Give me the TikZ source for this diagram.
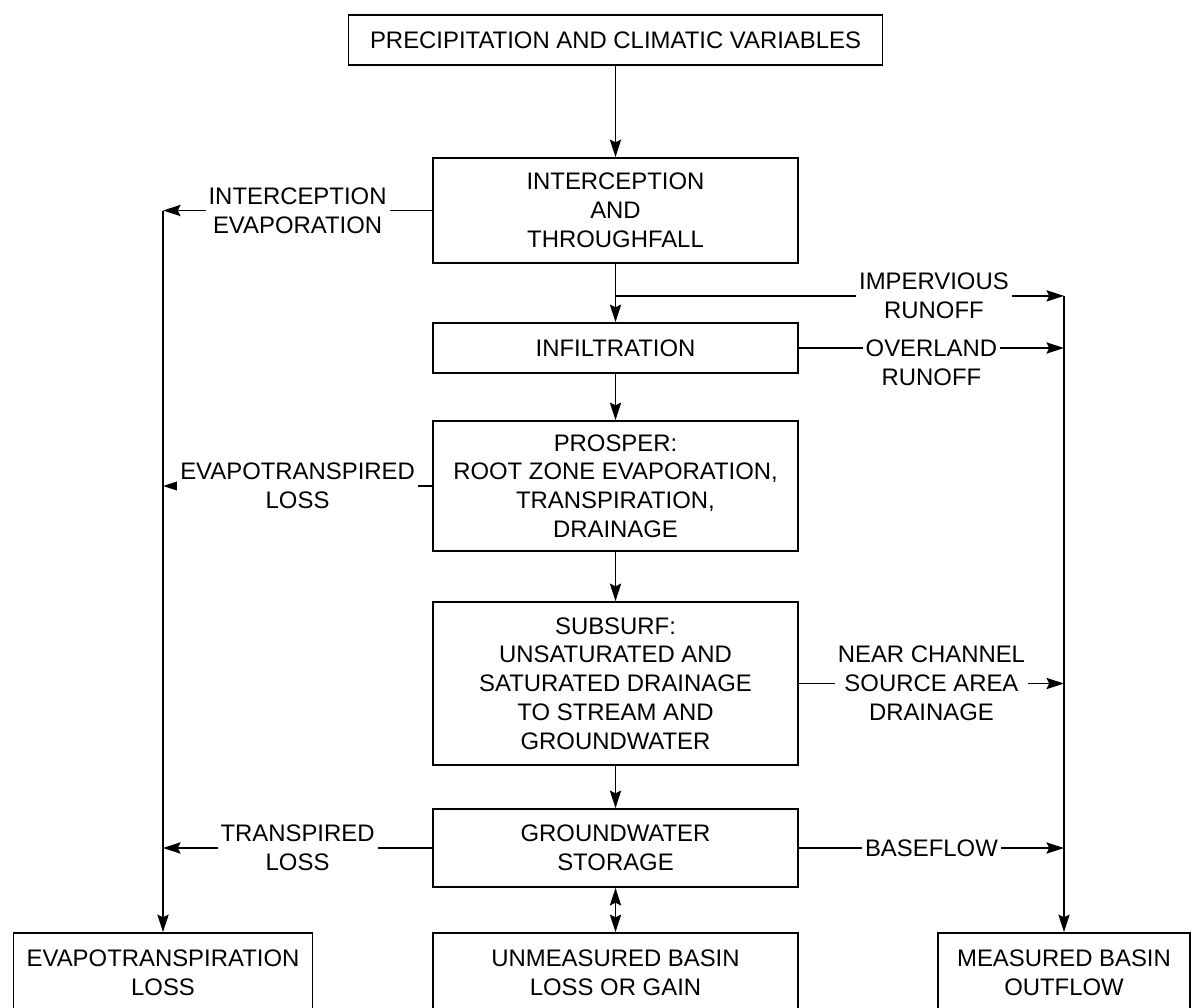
\documentclass[tikz,border=0pt]{standalone}
\usepackage{fontspec}
\setmainfont{Liberation Sans}
\usetikzlibrary{arrows.meta}

\tikzset{
  box/.style={draw, line width=0.5pt, minimum width=3.65cm, inner sep=0pt, align=center, font=\fontsize{6.8pt}{8.2pt}\selectfont},
  lbl/.style={fill=white, inner xsep=0.03cm, inner ysep=0.02cm, align=center, font=\fontsize{6.8pt}{8.2pt}\selectfont},
  flow/.style={line width=0.5pt, -{Stealth[length=5pt,width=3.2pt,inset=0.8pt]}},
  dflow/.style={line width=0.5pt, {Stealth[length=5pt,width=3.2pt,inset=0.8pt]}-{Stealth[length=5pt,width=3.2pt,inset=0.8pt]}},
}

\begin{document}
\begin{tikzpicture}

    % Frame
    \def\xm{6.155}   % main column
    \def\xl{1.63}    % left collector
    \def\xr{10.64}   % right collector
    \useasboundingbox (0,0) rectangle (11.98,-10.07);
    \clip (0,0) rectangle (11.98,-10.07);

    % Boxes, main column
    \node[box, minimum width=5.34cm, minimum height=0.50cm] (precip) at (\xm,-0.40) {PRECIPITATION AND CLIMATIC VARIABLES};
    \node[box, minimum height=1.05cm] (intercept) at (\xm,-2.105) {INTERCEPTION\\AND\\THROUGHFALL};
    \node[box, minimum height=0.50cm] (infil) at (\xm,-3.48) {INFILTRATION};
    \node[box, minimum height=1.30cm] (prosper) at (\xm,-4.86) {PROSPER:\\ROOT ZONE EVAPORATION,\\TRANSPIRATION,\\DRAINAGE};
    \node[box, minimum height=1.63cm] (subsurf) at (\xm,-6.835) {SUBSURF:\\UNSATURATED AND\\SATURATED DRAINAGE\\TO STREAM AND\\GROUNDWATER};
    \node[box, minimum height=0.78cm] (gw) at (\xm,-8.48) {GROUNDWATER\\STORAGE};

    % Boxes, bottom row
    \node[box, minimum width=2.99cm, minimum height=0.80cm] (etloss) at (\xl,-9.73) {EVAPOTRANSPIRATION\\LOSS};
    \node[box, minimum height=0.80cm] (unmeas) at (\xm,-9.73) {UNMEASURED BASIN\\LOSS OR GAIN};
    \node[box, minimum width=2.52cm, minimum height=0.80cm] (meas) at (\xr,-9.73) {MEASURED BASIN\\OUTFLOW};

    % Collector points
    \path (intercept.south) ++(0,-0.32) coordinate (J);
    \coordinate (L0) at (etloss.north |- intercept.west);
    \coordinate (L1) at (etloss.north |- prosper.west);
    \coordinate (L2) at (etloss.north |- gw.west);
    \coordinate (R0) at (meas.north |- J);
    \coordinate (R1) at (meas.north |- infil.east);
    \coordinate (R2) at (meas.north |- subsurf.east);
    \coordinate (R3) at (meas.north |- gw.east);

    % Main flow
    \draw[flow] (precip.south) -- (intercept.north);
    \draw[flow] (intercept.south) -- (infil.north);
    \draw[flow] (infil.south) -- (prosper.north);
    \draw[flow] (prosper.south) -- (subsurf.north);
    \draw[flow] (subsurf.south) -- (gw.north);
    \draw[dflow] (gw.south) -- (unmeas.north);

    % Losses, left
    \draw[flow] (intercept.west) -- (L0) node[lbl, midway] {INTERCEPTION\\EVAPORATION};
    \draw[flow] (prosper.west) -- (L1) node[lbl, midway] {EVAPOTRANSPIRED\\LOSS};
    \draw[flow] (gw.west) -- (L2) node[lbl, midway] {TRANSPIRED\\LOSS};
    \draw[flow] (L0) -- (etloss.north);

    % Outflow, right
    \draw[flow] (J) -- (R0) node[lbl, pos=0.71] {IMPERVIOUS\\RUNOFF};
    \draw[flow] (infil.east) -- (R1) node[lbl, midway, yshift=-0.145cm] {OVERLAND\\RUNOFF};
    \draw[flow] (subsurf.east) -- (R2) node[lbl, midway] {NEAR CHANNEL\\SOURCE AREA\\DRAINAGE};
    \draw[flow] (gw.east) -- (R3) node[lbl, midway] {BASEFLOW};
    \draw[flow] (R0) -- (meas.north);

\end{tikzpicture}
\end{document}
